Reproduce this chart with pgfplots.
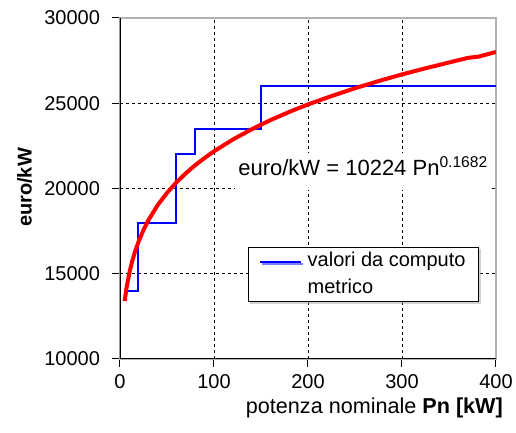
\documentclass[border=0pt]{standalone}
\usepackage{fontspec}
\setmainfont{Liberation Sans}
\usepackage{pgfplots}
\pgfplotsset{compat=1.18}
\usetikzlibrary{shadows}
\begin{document}
\begin{tikzpicture}
\path[use as bounding box] (-60pt,-37pt) rectangle (198pt,179.5pt);
\begin{axis}[
    at={(0,0)}, anchor=south west,
    scale only axis, width=188pt, height=170.5pt,
    xmin=0, xmax=400, ymin=10000, ymax=30000,
    xtick={0,100,200,300,400},
    ytick={10000,15000,20000,25000,30000},
    scaled ticks=false,
    tick pos=left, tick align=outside, major tick length=4pt,
    tick style={black, line width=0.5pt},
    grid=major,
    grid style={black, line width=0.4pt, dash pattern=on 1.5pt off 1.5pt},
    axis line style={gray!60, line width=0.6pt},
    font=\fontsize{10.8}{12.5}\selectfont,
    ticklabel style={font=\fontsize{10}{12}\selectfont},
    yticklabel style={xshift=-2.5pt},
    /pgf/number format/assume math mode=true,
    /pgf/number format/1000 sep={},
    ylabel={\bfseries euro/kW},
    xlabel={potenza nominale \textbf{Pn [kW]}},
    every axis y label/.style={at={(axis description cs:-0.254,0.503)}, rotate=90, anchor=center,
        font=\fontsize{10}{12}\selectfont},
    every axis x label/.style={at={(axis description cs:1.037,-0.144)}, anchor=east},
    legend style={at={(axis description cs:0.955,0.167)}, anchor=south east,
        draw=black, fill=white, line width=0.5pt,
        inner xsep=5.5pt, inner ysep=1.5pt, column sep=2pt,
        font=\fontsize{10}{13.5}\selectfont,
        nodes={inner sep=1pt},
        cells={align=left, anchor=west},
        drop shadow={shadow xshift=1pt, shadow yshift=-1pt, fill=gray!70}},
    legend image code/.code={\path (0pt,0pt); \draw[#1] (0pt,6pt) -- (20.3pt,6pt);},
]
% valori da computo metrico
\addplot[blue, line width=1pt] coordinates {
    (5,14000) (19,14000) (19,18000) (60,18000) (60,22000)
    (80,22000) (80,23500) (150,23500) (150,26000) (400,26000)
};
\addlegendentry{valori da computo\\metrico}
% curva di regressione
\addplot[red, line width=2pt, forget plot] coordinates {
    (5,13400) (7,14180) (10,15060) (13,15740) (16,16300) (20,16920)
    (25,17570) (30,18120) (40,19020) (50,19740) (60,20360) (70,20890)
    (80,21370) (90,21790) (100,22180) (120,22870) (140,23470) (160,24010)
    (180,24490) (200,24930) (225,25420) (250,25880) (275,26300)
    (300,26690) (325,27050) (350,27390) (370,27660) (382,27740) (400,28010)
};
\node[fill=white, anchor=base west, inner xsep=1.5pt, inner ysep=1.5pt, text depth=6pt,
    font=\fontsize{11}{13}\selectfont] at (axis cs:122.3,20790)
    {euro/kW = 10224 Pn\textsuperscript{\fontsize{7.8}{9}\selectfont 0.1682}};
\draw[black, line width=0.6pt] (rel axis cs:0,1) -- (rel axis cs:0,0) -- (rel axis cs:1,0);
\end{axis}
\end{tikzpicture}
\end{document}
